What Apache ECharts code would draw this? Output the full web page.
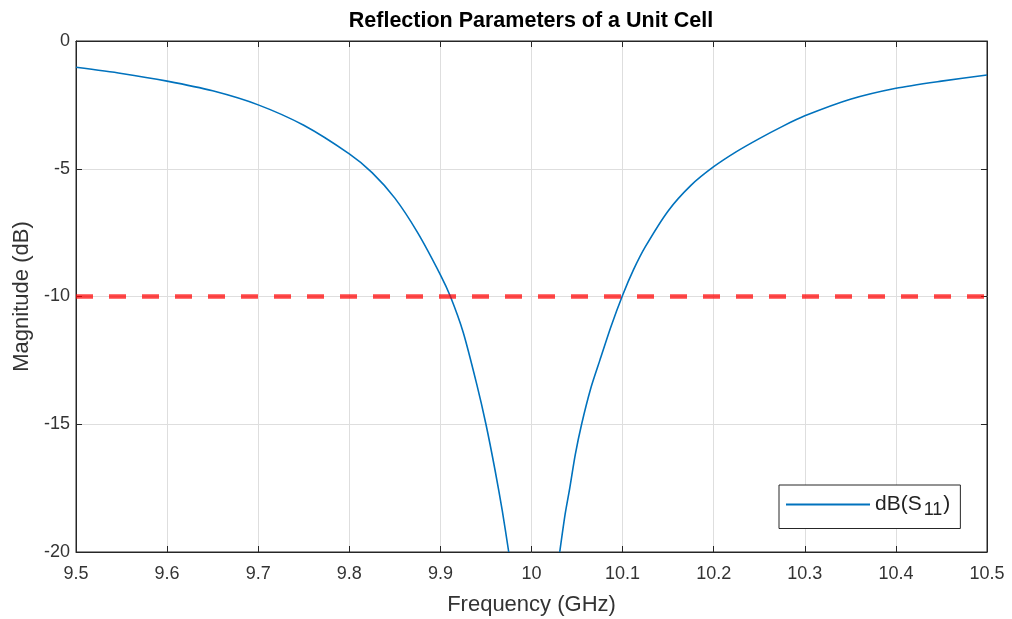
<!DOCTYPE html>
<html>
<head>
<meta charset="UTF-8">
<title>Reflection Parameters of a Unit Cell</title>
<script src="https://cdn.jsdelivr.net/npm/echarts@6/dist/echarts.min.js" type="text/javascript"></script>
<style>
  html, body { margin: 0; padding: 0; background: #fff; }
  #chart { width: 1012px; height: 619px; }
</style>
</head>
<body>
<div id="chart"></div>
<script>
// S11 magnitude, two branches either side of the null
var freqLeft = [9.5, 9.55, 9.6, 9.65, 9.7, 9.75, 9.8, 9.825, 9.85, 9.875, 9.9, 9.911, 9.925, 9.94, 9.95, 9.96, 9.968, 9.975];
var dbLeft   = [-1.03, -1.27, -1.57, -1.95, -2.5, -3.3, -4.42, -5.15, -6.15, -7.5, -9.15, -10.0, -11.4, -13.45, -15.0, -16.8, -18.4, -20.0];
var freqRight = [10.031, 10.037, 10.042, 10.048, 10.055, 10.065, 10.075, 10.087, 10.1, 10.112, 10.125, 10.15, 10.175, 10.2, 10.225, 10.25, 10.275, 10.3, 10.35, 10.4, 10.45, 10.5];
var dbRight   = [-20.0, -18.5, -17.5, -16.2, -15.0, -13.6, -12.5, -11.2, -9.95, -8.95, -8.05, -6.65, -5.65, -4.92, -4.33, -3.82, -3.35, -2.93, -2.28, -1.85, -1.57, -1.33];
// -10 dB threshold
var threshold = -10;
var freqRange = [9.5, 10.5];

var font = 'Liberation Sans, Helvetica, Arial, sans-serif';
var axisColor = '#262626';

var s11 = [];
for (var i = 0; i < freqLeft.length; i++) s11.push([freqLeft[i], dbLeft[i]]);
s11.push([10.0, '-']);   // gap: curve leaves the plot below -20 dB
for (var j = 0; j < freqRight.length; j++) s11.push([freqRight[j], dbRight[j]]);

var myChart = echarts.init(document.getElementById('chart'), null, {renderer: 'canvas'});

function xAxisCfg(pos, showLabel) {
  return {
    type: 'value', position: pos, min: 9.5, max: 10.5, interval: 0.1,
    axisLine: {show: true, onZero: false, lineStyle: {color: axisColor, width: 1}},
    axisTick: {show: true, inside: true, length: 6, lineStyle: {color: axisColor}},
    axisLabel: {
      show: showLabel, color: '#333', fontSize: 18, fontFamily: font, margin: 13,
      formatter: function (v) { return String(Math.round(v * 10) / 10); }
    },
    splitLine: {show: showLabel, lineStyle: {color: '#dedede', width: 1}}
  };
}
function yAxisCfg(pos, showLabel) {
  return {
    type: 'value', position: pos, min: -20, max: 0, interval: 5,
    axisLine: {show: true, onZero: false, lineStyle: {color: axisColor, width: 1}},
    axisTick: {show: true, inside: true, length: 6, lineStyle: {color: axisColor}},
    axisLabel: {show: showLabel, color: '#333', fontSize: 18, fontFamily: font, margin: 6},
    splitLine: {show: showLabel, lineStyle: {color: '#dedede', width: 1}}
  };
}

var xb = xAxisCfg('bottom', true);
xb.name = 'Frequency (GHz)';
xb.nameLocation = 'middle';
xb.nameGap = 42;
xb.nameTextStyle = {color: '#333', fontSize: 22, fontFamily: font};
var yl = yAxisCfg('left', true);
yl.name = 'Magnitude (dB)';
yl.nameLocation = 'middle';
yl.nameGap = 43;
yl.nameTextStyle = {color: '#333', fontSize: 22, fontFamily: font};

var option = {
  animation: false,
  backgroundColor: '#fff',
  title: {
    text: 'Reflection Parameters of a Unit Cell',
    left: 531, top: 10, padding: 0, textAlign: 'center',
    textStyle: {fontSize: 21.5, fontWeight: 'bold', color: '#000', fontFamily: font}
  },
  grid: {
    left: 76, right: 25, top: 41, bottom: 67,
    outerBoundsMode: 'none', containLabel: false,
    show: true, borderColor: axisColor, borderWidth: 1
  },
  legend: {
    data: [{name: 'dB(S11)', icon: 'rect'}],
    left: 779, top: 485,
    orient: 'vertical',
    selectedMode: false,
    backgroundColor: '#fff',
    borderColor: axisColor, borderWidth: 1, borderRadius: 0,
    padding: [9, 10, 9, 7],
    itemWidth: 84, itemHeight: 2, itemGap: 0,
    formatter: function () { return '{n|dB(S}{s|11}{n|)}'; },
    textStyle: {
      color: '#222', fontFamily: font,
      rich: {
        n: {fontSize: 21, fontFamily: font, color: '#222'},
        s: {fontSize: 18, fontFamily: font, color: '#222', padding: [12, 1, 0, 2]}
      }
    }
  },
  xAxis: [xb, xAxisCfg('top', false)],
  yAxis: [yl, yAxisCfg('right', false)],
  series: [
    {
      name: 'dB(S11)', type: 'line', data: s11,
      showSymbol: false, symbol: 'none',
      smooth: 0.25,
      connectNulls: false, clip: true,
      lineStyle: {color: '#0072BD', width: 1.6},
      itemStyle: {color: '#0072BD'}
    },
    {
      name: 'threshold', type: 'line',
      data: [[freqRange[0], threshold], [freqRange[1], threshold]],
      showSymbol: false, symbol: 'none', silent: true,
      lineStyle: {color: 'rgba(255,0,0,0.72)', width: 4.5, type: [17, 16]},
      z: 3
    }
  ]
};

myChart.setOption(option);
</script>
</body>
</html>
